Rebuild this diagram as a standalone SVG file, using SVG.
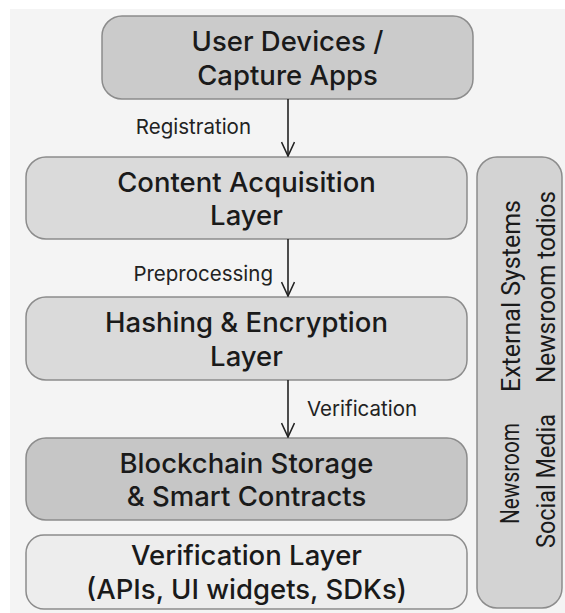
<svg xmlns="http://www.w3.org/2000/svg" width="565" height="613" viewBox="0 0 565 613">
<style>
.box{stroke:#8c8c8c;stroke-width:1.5}
.bt{font-family:Inter,"Liberation Sans",sans-serif;font-size:27.5px;font-weight:500;fill:#1a1a1a;text-anchor:middle}
.lbl{font-family:Inter,"Liberation Sans",sans-serif;font-size:20.5px;fill:#222}
.vt{font-family:Roboto,"Liberation Sans",sans-serif;font-size:26px;fill:#1a1a1a}
.conn{stroke:#222;stroke-width:1.6;fill:none}
</style>
<defs>
<marker id="ah" viewBox="0 0 16 14" refX="15" refY="7" markerWidth="16" markerHeight="14" markerUnits="userSpaceOnUse" orient="auto">
<path d="M1,0.5 L15,7 L1,13.5" fill="none" stroke="#222" stroke-width="1.6"/>
</marker>
</defs>
<rect x="0" y="0" width="565" height="613" fill="#ffffff"/>
<rect x="10" y="9" width="555" height="604" fill="#f4f4f4"/>

<g id="user-devices">
<rect class="box" x="102" y="16" width="371" height="83" rx="20" fill="#cbcbcb"/>
<text class="bt" x="287.5" y="51">User Devices /<tspan x="287.5" dy="33.5">Capture Apps</tspan></text>
</g>

<g id="content-acquisition">
<rect class="box" x="26" y="157" width="441" height="82" rx="20" fill="#dadada"/>
<text class="bt" x="246.5" y="191.5">Content Acquisition<tspan x="246.5" dy="33.5">Layer</tspan></text>
</g>

<g id="hashing">
<rect class="box" x="26" y="297" width="441" height="83" rx="20" fill="#dadada"/>
<text class="bt" x="246.5" y="332">Hashing &amp; Encryption<tspan x="246.5" dy="33.5">Layer</tspan></text>
</g>

<g id="blockchain">
<rect class="box" x="26" y="438" width="441" height="82" rx="20" fill="#c6c6c6"/>
<text class="bt" x="246.5" y="472.5">Blockchain Storage<tspan x="246.5" dy="33.5">&amp; Smart Contracts</tspan></text>
</g>

<g id="verification-layer">
<rect class="box" x="26" y="535" width="441" height="74" rx="18" fill="#ededed"/>
<text class="bt" x="246.5" y="565">Verification Layer<tspan x="246.5" dy="33.5">(APIs, UI widgets, SDKs)</tspan></text>
</g>

<g id="external-systems">
<rect class="box" x="477" y="157" width="85" height="451" rx="20" fill="#d3d3d3"/>
<text class="vt" transform="translate(520,392) rotate(-90)" textLength="192" lengthAdjust="spacingAndGlyphs">External Systems</text>
<text class="vt" transform="translate(555,383) rotate(-90)" textLength="192" lengthAdjust="spacingAndGlyphs">Newsroom todios</text>
<text class="vt" transform="translate(519,524) rotate(-90)" textLength="101" lengthAdjust="spacingAndGlyphs">Newsroom</text>
<text class="vt" transform="translate(555,548) rotate(-90)" textLength="134" lengthAdjust="spacingAndGlyphs">Social Media</text>
</g>

<g id="connectors">
<line class="conn" x1="288" y1="99" x2="288" y2="156" marker-end="url(#ah)"/>
<line class="conn" x1="288" y1="239" x2="288" y2="296" marker-end="url(#ah)"/>
<line class="conn" x1="288" y1="380" x2="288" y2="437" marker-end="url(#ah)"/>
<text class="lbl" x="251" y="134" text-anchor="end">Registration</text>
<text class="lbl" x="273" y="281" text-anchor="end">Preprocessing</text>
<text class="lbl" x="307" y="416">Verification</text>
</g>
</svg>
